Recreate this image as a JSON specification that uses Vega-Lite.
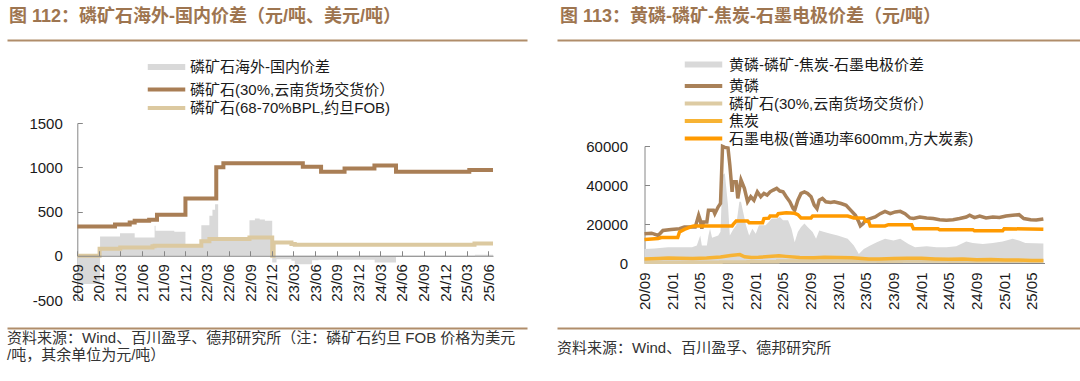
{
"$schema": "https://vega.github.io/schema/vega-lite/v6.json",
"padding": {"left": 7, "top": 8, "right": 0, "bottom": 0},
"background": "white",
"spacing": 30,
"config": {
  "font": "Liberation Sans, Noto Sans CJK SC",
  "view": {"stroke": null},
  "axis": {"grid": false, "title": null, "labelFont": "Liberation Sans", "labelFontSize": 15, "labelColor": "#1a1a1a", "domainColor": "#868686", "tickColor": "#868686", "labelFlush": false, "labelOverlap": false, "labelBound": false},
  "legend": {"orient": "none", "direction": "vertical", "title": null, "symbolType": "M-2.5,0H2.5", "symbolStrokeWidth": 4, "symbolSize": 225, "labelFontSize": 15, "labelFont": "Liberation Sans, Noto Sans CJK SC", "labelColor": "#1a1a1a", "labelLimit": 500, "rowPadding": 1, "labelOffset": 16, "padding": 0},
  "title": {"anchor": "start", "font": "Liberation Sans, Noto Sans CJK SC"}
},
"resolve": {"scale": {"color": "independent"}, "legend": {"color": "independent"}},
"datasets": {
"L": [
{"d":"2020/09/01","s":"磷矿石海外-国内价差","v":-320},
{"d":"2020/12/06","s":"磷矿石海外-国内价差","v":218},
{"d":"2021/02/28","s":"磷矿石海外-国内价差","v":255},
{"d":"2021/05/01","s":"磷矿石海外-国内价差","v":207},
{"d":"2021/07/24","s":"磷矿石海外-国内价差","v":338},
{"d":"2021/07/28","s":"磷矿石海外-国内价差","v":282},
{"d":"2021/10/15","s":"磷矿石海外-国内价差","v":270},
{"d":"2021/12/01","s":"磷矿石海外-国内价差","v":110},
{"d":"2022/02/06","s":"磷矿石海外-国内价差","v":346},
{"d":"2022/03/12","s":"磷矿石海外-国内价差","v":451},
{"d":"2022/03/25","s":"磷矿石海外-国内价差","v":520},
{"d":"2022/04/05","s":"磷矿石海外-国内价差","v":583},
{"d":"2022/04/18","s":"磷矿石海外-国内价差","v":200},
{"d":"2022/08/28","s":"磷矿石海外-国内价差","v":400},
{"d":"2022/09/20","s":"磷矿石海外-国内价差","v":421},
{"d":"2022/10/10","s":"磷矿石海外-国内价差","v":410},
{"d":"2022/11/01","s":"磷矿石海外-国内价差","v":395},
{"d":"2022/12/02","s":"磷矿石海外-国内价差","v":-75},
{"d":"2022/12/20","s":"磷矿石海外-国内价差","v":-40},
{"d":"2023/02/21","s":"磷矿石海外-国内价差","v":-56},
{"d":"2023/03/07","s":"磷矿石海外-国内价差","v":-95},
{"d":"2023/05/19","s":"磷矿石海外-国内价差","v":-50},
{"d":"2023/06/15","s":"磷矿石海外-国内价差","v":-45},
{"d":"2024/02/07","s":"磷矿石海外-国内价差","v":-75},
{"d":"2024/05/07","s":"磷矿石海外-国内价差","v":-15},
{"d":"2025/03/15","s":"磷矿石海外-国内价差","v":-10},
{"d":"2025/04/05","s":"磷矿石海外-国内价差","v":10},
{"d":"2025/06/20","s":"磷矿石海外-国内价差","v":10},
{"d":"2020/09/01","s":"磷矿石(30%,云南货场交货价）","v":330},
{"d":"2021/02/07","s":"磷矿石(30%,云南货场交货价）","v":353},
{"d":"2021/04/10","s":"磷矿石(30%,云南货场交货价）","v":376},
{"d":"2021/05/01","s":"磷矿石(30%,云南货场交货价）","v":395},
{"d":"2021/07/01","s":"磷矿石(30%,云南货场交货价）","v":406},
{"d":"2021/08/03","s":"磷矿石(30%,云南货场交货价）","v":462},
{"d":"2021/12/01","s":"磷矿石(30%,云南货场交货价）","v":647},
{"d":"2022/04/10","s":"磷矿石(30%,云南货场交货价）","v":1000},
{"d":"2022/05/10","s":"磷矿石(30%,云南货场交货价）","v":1045},
{"d":"2023/04/10","s":"磷矿石(30%,云南货场交货价）","v":1005},
{"d":"2023/06/26","s":"磷矿石(30%,云南货场交货价）","v":950},
{"d":"2023/10/03","s":"磷矿石(30%,云南货场交货价）","v":985},
{"d":"2024/02/06","s":"磷矿石(30%,云南货场交货价）","v":1020},
{"d":"2024/05/07","s":"磷矿石(30%,云南货场交货价）","v":950},
{"d":"2025/03/12","s":"磷矿石(30%,云南货场交货价）","v":970},
{"d":"2025/06/20","s":"磷矿石(30%,云南货场交货价）","v":970},
{"d":"2020/09/01","s":"磷矿石(68-70%BPL,约旦FOB)","v":0},
{"d":"2020/12/04","s":"磷矿石(68-70%BPL,约旦FOB)","v":80},
{"d":"2021/03/01","s":"磷矿石(68-70%BPL,约旦FOB)","v":92},
{"d":"2021/07/15","s":"磷矿石(68-70%BPL,约旦FOB)","v":108},
{"d":"2021/07/24","s":"磷矿石(68-70%BPL,约旦FOB)","v":113},
{"d":"2022/02/06","s":"磷矿石(68-70%BPL,约旦FOB)","v":165},
{"d":"2022/03/12","s":"磷矿石(68-70%BPL,约旦FOB)","v":188},
{"d":"2022/08/28","s":"磷矿石(68-70%BPL,约旦FOB)","v":207},
{"d":"2022/12/02","s":"磷矿石(68-70%BPL,约旦FOB)","v":0},
{"d":"2022/12/08","s":"磷矿石(68-70%BPL,约旦FOB)","v":150},
{"d":"2023/02/21","s":"磷矿石(68-70%BPL,约旦FOB)","v":132},
{"d":"2023/03/07","s":"磷矿石(68-70%BPL,约旦FOB)","v":124},
{"d":"2025/04/03","s":"磷矿石(68-70%BPL,约旦FOB)","v":139},
{"d":"2025/06/20","s":"磷矿石(68-70%BPL,约旦FOB)","v":139}
],
"R": [
{"d":"2020/09/01","s":"黄磷-磷矿-焦炭-石墨电极价差","v":7200},
{"d":"2020/10/15","s":"黄磷-磷矿-焦炭-石墨电极价差","v":7400},
{"d":"2020/12/13","s":"黄磷-磷矿-焦炭-石墨电极价差","v":8100},
{"d":"2021/03/29","s":"黄磷-磷矿-焦炭-石墨电极价差","v":8100},
{"d":"2021/04/19","s":"黄磷-磷矿-焦炭-石墨电极价差","v":9000},
{"d":"2021/05/04","s":"黄磷-磷矿-焦炭-石墨电极价差","v":14100},
{"d":"2021/05/11","s":"黄磷-磷矿-焦炭-石墨电极价差","v":9000},
{"d":"2021/06/02","s":"黄磷-磷矿-焦炭-石墨电极价差","v":9000},
{"d":"2021/06/09","s":"黄磷-磷矿-焦炭-石墨电极价差","v":14100},
{"d":"2021/06/16","s":"黄磷-磷矿-焦炭-石墨电极价差","v":17600},
{"d":"2021/06/25","s":"黄磷-磷矿-焦炭-石墨电极价差","v":13000},
{"d":"2021/07/22","s":"黄磷-磷矿-焦炭-石墨电极价差","v":14100},
{"d":"2021/08/01","s":"黄磷-磷矿-焦炭-石墨电极价差","v":16000},
{"d":"2021/08/10","s":"黄磷-磷矿-焦炭-石墨电极价差","v":45000},
{"d":"2021/08/20","s":"黄磷-磷矿-焦炭-石墨电极价差","v":46000},
{"d":"2021/09/03","s":"黄磷-磷矿-焦炭-石墨电极价差","v":29600},
{"d":"2021/09/11","s":"黄磷-磷矿-焦炭-石墨电极价差","v":14100},
{"d":"2021/09/25","s":"黄磷-磷矿-焦炭-石墨电极价差","v":17000},
{"d":"2021/10/09","s":"黄磷-磷矿-焦炭-石墨电极价差","v":19300},
{"d":"2021/10/23","s":"黄磷-磷矿-焦炭-石墨电极价差","v":31400},
{"d":"2021/10/30","s":"黄磷-磷矿-焦炭-石墨电极价差","v":31400},
{"d":"2021/11/21","s":"黄磷-磷矿-焦炭-石墨电极价差","v":19300},
{"d":"2021/12/05","s":"黄磷-磷矿-焦炭-石墨电极价差","v":14100},
{"d":"2021/12/19","s":"黄磷-磷矿-焦炭-石墨电极价差","v":17600},
{"d":"2022/01/03","s":"黄磷-磷矿-焦炭-石墨电极价差","v":15000},
{"d":"2022/01/17","s":"黄磷-磷矿-焦炭-石墨电极价差","v":19300},
{"d":"2022/02/15","s":"黄磷-磷矿-焦炭-石墨电极价差","v":19300},
{"d":"2022/03/01","s":"黄磷-磷矿-焦炭-石墨电极价差","v":21000},
{"d":"2022/03/14","s":"黄磷-磷矿-焦炭-石墨电极价差","v":22800},
{"d":"2022/04/05","s":"黄磷-磷矿-焦炭-石墨电极价差","v":22800},
{"d":"2022/04/19","s":"黄磷-磷矿-焦炭-石墨电极价差","v":23600},
{"d":"2022/05/03","s":"黄磷-磷矿-焦炭-石墨电极价差","v":21900},
{"d":"2022/05/25","s":"黄磷-磷矿-焦炭-石墨电极价差","v":21900},
{"d":"2022/06/09","s":"黄磷-磷矿-焦炭-石墨电极价差","v":17600},
{"d":"2022/06/23","s":"黄磷-磷矿-焦炭-石墨电极价差","v":10700},
{"d":"2022/07/07","s":"黄磷-磷矿-焦炭-石墨电极价差","v":15900},
{"d":"2022/07/21","s":"黄磷-磷矿-焦炭-石墨电极价差","v":18400},
{"d":"2022/08/05","s":"黄磷-磷矿-焦炭-石墨电极价差","v":20200},
{"d":"2022/08/19","s":"黄磷-磷矿-焦炭-石墨电极价差","v":18400},
{"d":"2022/09/10","s":"黄磷-磷矿-焦炭-石墨电极价差","v":15900},
{"d":"2022/09/25","s":"黄磷-磷矿-焦炭-石墨电极价差","v":12400},
{"d":"2022/10/09","s":"黄磷-磷矿-焦炭-石墨电极价差","v":16700},
{"d":"2022/10/31","s":"黄磷-磷矿-焦炭-石墨电极价差","v":15900},
{"d":"2022/11/28","s":"黄磷-磷矿-焦炭-石墨电极价差","v":15000},
{"d":"2022/12/29","s":"黄磷-磷矿-焦炭-石墨电极价差","v":14100},
{"d":"2023/02/11","s":"黄磷-磷矿-焦炭-石墨电极价差","v":12400},
{"d":"2023/03/10","s":"黄磷-磷矿-焦炭-石墨电极价差","v":9000},
{"d":"2023/04/01","s":"黄磷-磷矿-焦炭-石墨电极价差","v":4650},
{"d":"2023/04/23","s":"黄磷-磷矿-焦炭-石墨电极价差","v":7200},
{"d":"2023/05/21","s":"黄磷-磷矿-焦炭-石墨电极价差","v":9000},
{"d":"2023/06/19","s":"黄磷-磷矿-焦炭-石墨电极价差","v":10700},
{"d":"2023/07/25","s":"黄磷-磷矿-焦炭-石墨电极价差","v":12400},
{"d":"2023/08/31","s":"黄磷-磷矿-焦炭-石墨电极价差","v":11550},
{"d":"2023/09/30","s":"黄磷-磷矿-焦炭-石墨电极价差","v":12400},
{"d":"2023/11/05","s":"黄磷-磷矿-焦炭-石墨电极价差","v":9800},
{"d":"2023/12/04","s":"黄磷-磷矿-焦炭-石墨电极价差","v":8100},
{"d":"2024/01/24","s":"黄磷-磷矿-焦炭-石墨电极价差","v":8600},
{"d":"2024/03/07","s":"黄磷-磷矿-焦炭-石墨电极价差","v":8100},
{"d":"2024/04/20","s":"黄磷-磷矿-焦炭-石墨电极价差","v":8100},
{"d":"2024/06/02","s":"黄磷-磷矿-焦炭-石墨电极价差","v":8600},
{"d":"2024/07/16","s":"黄磷-磷矿-焦炭-石墨电极价差","v":11000},
{"d":"2024/08/14","s":"黄磷-磷矿-焦炭-石墨电极价差","v":10300},
{"d":"2024/09/27","s":"黄磷-磷矿-焦炭-石墨电极价差","v":9800},
{"d":"2024/11/10","s":"黄磷-磷矿-焦炭-石墨电极价差","v":10300},
{"d":"2024/12/23","s":"黄磷-磷矿-焦炭-石墨电极价差","v":11000},
{"d":"2025/02/05","s":"黄磷-磷矿-焦炭-石墨电极价差","v":12400},
{"d":"2025/03/05","s":"黄磷-磷矿-焦炭-石墨电极价差","v":11550},
{"d":"2025/04/02","s":"黄磷-磷矿-焦炭-石墨电极价差","v":10300},
{"d":"2025/06/20","s":"黄磷-磷矿-焦炭-石墨电极价差","v":10000},
{"d":"2020/09/01","s":"黄磷","v":15000},
{"d":"2020/10/02","s":"黄磷","v":15300},
{"d":"2020/10/31","s":"黄磷","v":14100},
{"d":"2020/11/21","s":"黄磷","v":16700},
{"d":"2020/12/27","s":"黄磷","v":17200},
{"d":"2021/02/02","s":"黄磷","v":17600},
{"d":"2021/02/23","s":"黄磷","v":18400},
{"d":"2021/04/12","s":"黄磷","v":18400},
{"d":"2021/04/27","s":"黄磷","v":24500},
{"d":"2021/05/04","s":"黄磷","v":22000},
{"d":"2021/05/11","s":"黄磷","v":17600},
{"d":"2021/05/18","s":"黄磷","v":21000},
{"d":"2021/06/02","s":"黄磷","v":21000},
{"d":"2021/06/09","s":"黄磷","v":27000},
{"d":"2021/07/01","s":"黄磷","v":27000},
{"d":"2021/07/07","s":"黄磷","v":25300},
{"d":"2021/07/22","s":"黄磷","v":28800},
{"d":"2021/08/01","s":"黄磷","v":30500},
{"d":"2021/08/10","s":"黄磷","v":59800},
{"d":"2021/08/20","s":"黄磷","v":59300},
{"d":"2021/09/03","s":"黄磷","v":59000},
{"d":"2021/09/11","s":"黄磷","v":50300},
{"d":"2021/09/21","s":"黄磷","v":36500},
{"d":"2021/09/25","s":"黄磷","v":41700},
{"d":"2021/10/09","s":"黄磷","v":41700},
{"d":"2021/10/16","s":"黄磷","v":33100},
{"d":"2021/10/30","s":"黄磷","v":42600},
{"d":"2021/11/14","s":"黄磷","v":38300},
{"d":"2021/11/28","s":"黄磷","v":31400},
{"d":"2021/12/12","s":"黄磷","v":34000},
{"d":"2021/12/26","s":"黄磷","v":32200},
{"d":"2022/01/10","s":"黄磷","v":36500},
{"d":"2022/01/25","s":"黄磷","v":34000},
{"d":"2022/02/08","s":"黄磷","v":35700},
{"d":"2022/02/22","s":"黄磷","v":34800},
{"d":"2022/03/07","s":"黄磷","v":36500},
{"d":"2022/03/21","s":"黄磷","v":37400},
{"d":"2022/04/05","s":"黄磷","v":38300},
{"d":"2022/04/19","s":"黄磷","v":36900},
{"d":"2022/05/03","s":"黄磷","v":36500},
{"d":"2022/05/17","s":"黄磷","v":34000},
{"d":"2022/06/02","s":"黄磷","v":31400},
{"d":"2022/06/16","s":"黄磷","v":27900},
{"d":"2022/06/23","s":"黄磷","v":27000},
{"d":"2022/07/07","s":"黄磷","v":32200},
{"d":"2022/07/21","s":"黄磷","v":35700},
{"d":"2022/08/05","s":"黄磷","v":36500},
{"d":"2022/08/19","s":"黄磷","v":35700},
{"d":"2022/09/03","s":"黄磷","v":34000},
{"d":"2022/09/17","s":"黄磷","v":29650},
{"d":"2022/09/29","s":"黄磷","v":27900},
{"d":"2022/10/09","s":"黄磷","v":32200},
{"d":"2022/10/23","s":"黄磷","v":33100},
{"d":"2022/11/07","s":"黄磷","v":31400},
{"d":"2022/11/28","s":"黄磷","v":31000},
{"d":"2022/12/14","s":"黄磷","v":31400},
{"d":"2023/01/13","s":"黄磷","v":30500},
{"d":"2023/02/04","s":"黄磷","v":29600},
{"d":"2023/02/25","s":"黄磷","v":27000},
{"d":"2023/03/17","s":"黄磷","v":24500},
{"d":"2023/04/01","s":"黄磷","v":21000},
{"d":"2023/04/08","s":"黄磷","v":19000},
{"d":"2023/04/20","s":"黄磷","v":20200},
{"d":"2023/04/30","s":"黄磷","v":21900},
{"d":"2023/05/21","s":"黄磷","v":22800},
{"d":"2023/06/12","s":"黄磷","v":23600},
{"d":"2023/07/04","s":"黄磷","v":25300},
{"d":"2023/07/25","s":"黄磷","v":26500},
{"d":"2023/08/17","s":"黄磷","v":25300},
{"d":"2023/09/08","s":"黄磷","v":26200},
{"d":"2023/09/30","s":"黄磷","v":26500},
{"d":"2023/10/21","s":"黄磷","v":25300},
{"d":"2023/11/12","s":"黄磷","v":23100},
{"d":"2023/11/27","s":"黄磷","v":22800},
{"d":"2023/12/25","s":"黄磷","v":23600},
{"d":"2024/01/24","s":"黄磷","v":23100},
{"d":"2024/02/22","s":"黄磷","v":22800},
{"d":"2024/03/21","s":"黄磷","v":22200},
{"d":"2024/04/20","s":"黄磷","v":21900},
{"d":"2024/05/19","s":"黄磷","v":22200},
{"d":"2024/06/17","s":"黄磷","v":22800},
{"d":"2024/07/16","s":"黄磷","v":23600},
{"d":"2024/07/31","s":"黄磷","v":24500},
{"d":"2024/08/21","s":"黄磷","v":23300},
{"d":"2024/09/13","s":"黄磷","v":24100},
{"d":"2024/10/11","s":"黄磷","v":23100},
{"d":"2024/11/10","s":"黄磷","v":23600},
{"d":"2024/12/09","s":"黄磷","v":23300},
{"d":"2025/01/07","s":"黄磷","v":24100},
{"d":"2025/02/05","s":"黄磷","v":24500},
{"d":"2025/03/05","s":"黄磷","v":24800},
{"d":"2025/03/26","s":"黄磷","v":22800},
{"d":"2025/04/25","s":"黄磷","v":22200},
{"d":"2025/05/20","s":"黄磷","v":22000},
{"d":"2025/06/20","s":"黄磷","v":22600},
{"d":"2020/09/01","s":"磷矿石(30%,云南货场交货价）","v":330},
{"d":"2021/02/07","s":"磷矿石(30%,云南货场交货价）","v":353},
{"d":"2021/04/10","s":"磷矿石(30%,云南货场交货价）","v":376},
{"d":"2021/05/01","s":"磷矿石(30%,云南货场交货价）","v":395},
{"d":"2021/07/01","s":"磷矿石(30%,云南货场交货价）","v":406},
{"d":"2021/08/03","s":"磷矿石(30%,云南货场交货价）","v":462},
{"d":"2021/12/01","s":"磷矿石(30%,云南货场交货价）","v":647},
{"d":"2022/04/10","s":"磷矿石(30%,云南货场交货价）","v":1000},
{"d":"2022/05/10","s":"磷矿石(30%,云南货场交货价）","v":1045},
{"d":"2023/04/10","s":"磷矿石(30%,云南货场交货价）","v":1005},
{"d":"2023/06/26","s":"磷矿石(30%,云南货场交货价）","v":950},
{"d":"2023/10/03","s":"磷矿石(30%,云南货场交货价）","v":985},
{"d":"2024/02/06","s":"磷矿石(30%,云南货场交货价）","v":1020},
{"d":"2024/05/07","s":"磷矿石(30%,云南货场交货价）","v":950},
{"d":"2025/03/12","s":"磷矿石(30%,云南货场交货价）","v":970},
{"d":"2025/06/20","s":"磷矿石(30%,云南货场交货价）","v":970},
{"d":"2020/09/01","s":"焦炭","v":2000},
{"d":"2020/11/01","s":"焦炭","v":2300},
{"d":"2020/12/15","s":"焦炭","v":2600},
{"d":"2021/02/01","s":"焦炭","v":2400},
{"d":"2021/04/01","s":"焦炭","v":2300},
{"d":"2021/06/01","s":"焦炭","v":2600},
{"d":"2021/08/01","s":"焦炭","v":3100},
{"d":"2021/09/15","s":"焦炭","v":3900},
{"d":"2021/10/25","s":"焦炭","v":4300},
{"d":"2021/11/15","s":"焦炭","v":3200},
{"d":"2021/12/15","s":"焦炭","v":2800},
{"d":"2022/01/15","s":"焦炭","v":2900},
{"d":"2022/03/01","s":"焦炭","v":3300},
{"d":"2022/04/15","s":"焦炭","v":3700},
{"d":"2022/05/15","s":"焦炭","v":3400},
{"d":"2022/07/15","s":"焦炭","v":2800},
{"d":"2022/09/15","s":"焦炭","v":2700},
{"d":"2022/11/01","s":"焦炭","v":2900},
{"d":"2023/01/01","s":"焦炭","v":2800},
{"d":"2023/03/01","s":"焦炭","v":2700},
{"d":"2023/05/15","s":"焦炭","v":2100},
{"d":"2023/07/01","s":"焦炭","v":2000},
{"d":"2023/09/01","s":"焦炭","v":2300},
{"d":"2023/11/01","s":"焦炭","v":2400},
{"d":"2024/01/01","s":"焦炭","v":2400},
{"d":"2024/03/01","s":"焦炭","v":2100},
{"d":"2024/05/01","s":"焦炭","v":1900},
{"d":"2024/07/01","s":"焦炭","v":2000},
{"d":"2024/09/01","s":"焦炭","v":1700},
{"d":"2024/11/01","s":"焦炭","v":1800},
{"d":"2025/01/01","s":"焦炭","v":1600},
{"d":"2025/03/01","s":"焦炭","v":1500},
{"d":"2025/05/01","s":"焦炭","v":1300},
{"d":"2025/06/20","s":"焦炭","v":1300},
{"d":"2020/09/01","s":"石墨电极(普通功率600mm,方大炭素)","v":12100},
{"d":"2020/10/31","s":"石墨电极(普通功率600mm,方大炭素)","v":12600},
{"d":"2020/11/14","s":"石墨电极(普通功率600mm,方大炭素)","v":13100},
{"d":"2021/01/25","s":"石墨电极(普通功率600mm,方大炭素)","v":13100},
{"d":"2021/02/02","s":"石墨电极(普通功率600mm,方大炭素)","v":15900},
{"d":"2021/02/23","s":"石墨电极(普通功率600mm,方大炭素)","v":17200},
{"d":"2021/03/29","s":"石墨电极(普通功率600mm,方大炭素)","v":18800},
{"d":"2021/04/05","s":"石墨电极(普通功率600mm,方大炭素)","v":19000},
{"d":"2021/09/21","s":"石墨电极(普通功率600mm,方大炭素)","v":19000},
{"d":"2021/09/25","s":"石墨电极(普通功率600mm,方大炭素)","v":19650},
{"d":"2021/10/09","s":"石墨电极(普通功率600mm,方大炭素)","v":21550},
{"d":"2021/11/28","s":"石墨电极(普通功率600mm,方大炭素)","v":21550},
{"d":"2021/12/05","s":"石墨电极(普通功率600mm,方大炭素)","v":20700},
{"d":"2022/02/02","s":"石墨电极(普通功率600mm,方大炭素)","v":20700},
{"d":"2022/02/08","s":"石墨电极(普通功率600mm,方大炭素)","v":22800},
{"d":"2022/03/01","s":"石墨电极(普通功率600mm,方大炭素)","v":23000},
{"d":"2022/03/07","s":"石墨电极(普通功率600mm,方大炭素)","v":24100},
{"d":"2022/04/05","s":"石墨电极(普通功率600mm,方大炭素)","v":24100},
{"d":"2022/04/12","s":"石墨电极(普通功率600mm,方大炭素)","v":25300},
{"d":"2022/05/17","s":"石墨电极(普通功率600mm,方大炭素)","v":25800},
{"d":"2022/06/23","s":"石墨电极(普通功率600mm,方大炭素)","v":25500},
{"d":"2022/07/07","s":"石墨电极(普通功率600mm,方大炭素)","v":24800},
{"d":"2022/07/21","s":"石墨电极(普通功率600mm,方大炭素)","v":23100},
{"d":"2022/09/03","s":"石墨电极(普通功率600mm,方大炭素)","v":23100},
{"d":"2022/09/10","s":"石墨电极(普通功率600mm,方大炭素)","v":24100},
{"d":"2023/02/11","s":"石墨电极(普通功率600mm,方大炭素)","v":24100},
{"d":"2023/02/25","s":"石墨电极(普通功率600mm,方大炭素)","v":23600},
{"d":"2023/03/10","s":"石墨电极(普通功率600mm,方大炭素)","v":23100},
{"d":"2023/04/23","s":"石墨电极(普通功率600mm,方大炭素)","v":23100},
{"d":"2023/04/30","s":"石墨电极(普通功率600mm,方大炭素)","v":21400},
{"d":"2023/05/14","s":"石墨电极(普通功率600mm,方大炭素)","v":21400},
{"d":"2023/05/21","s":"石墨电极(普通功率600mm,方大炭素)","v":19000},
{"d":"2023/07/25","s":"石墨电极(普通功率600mm,方大炭素)","v":19000},
{"d":"2023/08/09","s":"石墨电极(普通功率600mm,方大炭素)","v":19650},
{"d":"2023/11/19","s":"石墨电极(普通功率600mm,方大炭素)","v":19650},
{"d":"2023/11/27","s":"石墨电极(普通功率600mm,方大炭素)","v":17600},
{"d":"2024/03/14","s":"石墨电极(普通功率600mm,方大炭素)","v":17600},
{"d":"2024/03/21","s":"石墨电极(普通功率600mm,方大炭素)","v":17100},
{"d":"2024/08/14","s":"石墨电极(普通功率600mm,方大炭素)","v":17100},
{"d":"2024/08/21","s":"石墨电极(普通功率600mm,方大炭素)","v":16500},
{"d":"2024/12/23","s":"石墨电极(普通功率600mm,方大炭素)","v":16500},
{"d":"2024/12/30","s":"石墨电极(普通功率600mm,方大炭素)","v":17600},
{"d":"2025/06/20","s":"石墨电极(普通功率600mm,方大炭素)","v":17300}
]
},
"hconcat": [
{
  "bounds": "flush",
  "spacing": 0,
  "vconcat": [
    {
      "width": 520, "height": 83,
      "title": {"text": "图 112：磷矿石海外-国内价差（元/吨、美元/吨）", "fontSize": 18, "fontWeight": "bold", "color": "#9e7550", "offset": 14, "dx": 2},
      "data": {"values": [{"v": 0}]},
      "mark": {"type": "text"},
      "encoding": {
        "x": {"field": "v", "type": "quantitative", "scale": {"domain": [0, 1]}, "axis": {"orient": "top", "domainColor": "#b08d6a", "domainWidth": 2, "ticks": false, "labels": false}},
        "text": {"value": ""}
      }
    },
    {
      "width": 486, "height": 177,
      "data": {"name": "L"},
      "encoding": {
        "x": {"field": "d", "type": "temporal",
          "scale": {"domain": [{"year": 2020, "month": 9, "date": 1}, {"year": 2025, "month": 6, "date": 20}], "range": [70.3, 486]},
          "axis": {"format": "%y/%m", "labelAngle": 270, "offset": -44.25, "tickSize": -5, "labelPadding": 13, "zindex": 1,
            "values": [
              {"year": 2020, "month": 9, "date": 1}, {"year": 2020, "month": 12, "date": 1},
              {"year": 2021, "month": 3, "date": 1}, {"year": 2021, "month": 6, "date": 1}, {"year": 2021, "month": 9, "date": 1}, {"year": 2021, "month": 12, "date": 1},
              {"year": 2022, "month": 3, "date": 1}, {"year": 2022, "month": 6, "date": 1}, {"year": 2022, "month": 9, "date": 1}, {"year": 2022, "month": 12, "date": 1},
              {"year": 2023, "month": 3, "date": 1}, {"year": 2023, "month": 6, "date": 1}, {"year": 2023, "month": 9, "date": 1}, {"year": 2023, "month": 12, "date": 1},
              {"year": 2024, "month": 3, "date": 1}, {"year": 2024, "month": 6, "date": 1}, {"year": 2024, "month": 9, "date": 1}, {"year": 2024, "month": 12, "date": 1},
              {"year": 2025, "month": 3, "date": 1}, {"year": 2025, "month": 6, "date": 1}
            ]}},
        "y": {"field": "v", "type": "quantitative", "stack": null,
          "scale": {"domain": [-500, 1500], "nice": false, "zero": false},
          "axis": {"values": [-500, 0, 500, 1000, 1500], "labelExpr": "'' + datum.value", "offset": -70.3, "tickSize": -5, "labelPadding": 20}},
        "color": {"field": "s", "type": "nominal",
          "scale": {"domain": ["磷矿石海外-国内价差", "磷矿石(30%,云南货场交货价）", "磷矿石(68-70%BPL,约旦FOB)"], "range": ["#d9d9d9", "#a97e55", "#dcc9a0"]},
          "legend": {"legendX": 152, "legendY": 19.5, "labelOffset": 16, "rowPadding": 1.5,
            "encode": {"symbols": {"update": {"strokeWidth": {"signal": "datum.value === '磷矿石海外-国内价差' ? 6 : 4"}}}}}}
      },
      "layer": [
        {"transform": [{"filter": "datum.s === '磷矿石海外-国内价差'"}], "mark": {"type": "area", "interpolate": "step-after"}},
        {"transform": [{"filter": "datum.s === '磷矿石(30%,云南货场交货价）'"}], "mark": {"type": "line", "interpolate": "step-after", "strokeWidth": 4}},
        {"transform": [{"filter": "datum.s === '磷矿石(68-70%BPL,约旦FOB)'"}], "mark": {"type": "line", "interpolate": "step-after", "strokeWidth": 4}}
      ]
    },
    {
      "width": 520, "height": 28,
      "title": {"text": ["资料来源：Wind、百川盈孚、德邦研究所（注：磷矿石约旦 FOB 价格为美元", "/吨，其余单位为元/吨）"], "orient": "bottom", "fontSize": 15, "fontWeight": "normal", "color": "#333333", "offset": 3, "lineHeight": 17},
      "data": {"values": [{"v": 0}]},
      "mark": {"type": "text"},
      "encoding": {
        "x": {"field": "v", "type": "quantitative", "scale": {"domain": [0, 1]}, "axis": {"orient": "bottom", "domainColor": "#b08d6a", "domainWidth": 2, "ticks": false, "labels": false}},
        "text": {"value": ""}
      }
    }
  ]
},
{
  "bounds": "flush",
  "spacing": 0,
  "vconcat": [
    {
      "width": 523, "height": 106,
      "title": {"text": "图 113：黄磷-磷矿-焦炭-石墨电极价差（元/吨）", "fontSize": 18, "fontWeight": "bold", "color": "#9e7550", "offset": 14, "dx": 3},
      "data": {"values": [{"v": 0}]},
      "mark": {"type": "text"},
      "encoding": {
        "x": {"field": "v", "type": "quantitative", "scale": {"domain": [0, 1]}, "axis": {"orient": "top", "domainColor": "#b08d6a", "domainWidth": 2, "ticks": false, "labels": false}},
        "text": {"value": ""}
      }
    },
    {
      "width": 490, "height": 117,
      "data": {"name": "R"},
      "encoding": {
        "x": {"field": "d", "type": "temporal",
          "scale": {"domain": [{"year": 2020, "month": 9, "date": 1}, {"year": 2025, "month": 6, "date": 25}], "range": [87.5, 487.5]},
          "axis": {"format": "%y/%m", "labelAngle": 270, "tickSize": -5, "labelPadding": 14,
            "values": [
              {"year": 2020, "month": 9, "date": 1}, {"year": 2021, "month": 1, "date": 1}, {"year": 2021, "month": 5, "date": 1}, {"year": 2021, "month": 9, "date": 1},
              {"year": 2022, "month": 1, "date": 1}, {"year": 2022, "month": 5, "date": 1}, {"year": 2022, "month": 9, "date": 1},
              {"year": 2023, "month": 1, "date": 1}, {"year": 2023, "month": 5, "date": 1}, {"year": 2023, "month": 9, "date": 1},
              {"year": 2024, "month": 1, "date": 1}, {"year": 2024, "month": 5, "date": 1}, {"year": 2024, "month": 9, "date": 1},
              {"year": 2025, "month": 1, "date": 1}, {"year": 2025, "month": 5, "date": 1}
            ]}},
        "y": {"field": "v", "type": "quantitative", "stack": null,
          "scale": {"domain": [0, 60000], "nice": false},
          "axis": {"values": [0, 20000, 40000, 60000], "format": "d", "offset": -87.5, "tickSize": -5, "labelPadding": 22}},
        "color": {"field": "s", "type": "nominal",
          "scale": {"domain": ["黄磷-磷矿-焦炭-石墨电极价差", "黄磷", "磷矿石(30%,云南货场交货价）", "焦炭", "石墨电极(普通功率600mm,方大炭素)"], "range": ["#d9d9d9", "#a98158", "#ddcba3", "#f7b334", "#ff9a00"]},
          "legend": {"legendX": 139, "legendY": 17, "labelOffset": 18, "rowPadding": 0.5,
            "encode": {"symbols": {"update": {"strokeWidth": {"signal": "datum.value === '黄磷-磷矿-焦炭-石墨电极价差' ? 6 : 4"}}}}}}
      },
      "layer": [
        {"transform": [{"filter": "datum.s === '黄磷-磷矿-焦炭-石墨电极价差'"}], "mark": {"type": "area"}},
        {"transform": [{"filter": "datum.s === '黄磷'"}], "mark": {"type": "line", "strokeWidth": 3.5}},
        {"transform": [{"filter": "datum.s === '磷矿石(30%,云南货场交货价）'"}], "mark": {"type": "line", "interpolate": "step-after", "strokeWidth": 3.5}},
        {"transform": [{"filter": "datum.s === '焦炭'"}], "mark": {"type": "line", "strokeWidth": 3.5}},
        {"transform": [{"filter": "datum.s === '石墨电极(普通功率600mm,方大炭素)'"}], "mark": {"type": "line", "strokeWidth": 3.5}}
      ]
    },
    {
      "width": 523, "height": 65,
      "title": {"text": "资料来源：Wind、百川盈孚、德邦研究所", "orient": "bottom", "fontSize": 15, "fontWeight": "normal", "color": "#333333", "offset": 13},
      "data": {"values": [{"v": 0}]},
      "mark": {"type": "text"},
      "encoding": {
        "x": {"field": "v", "type": "quantitative", "scale": {"domain": [0, 1]}, "axis": {"orient": "bottom", "domainColor": "#b08d6a", "domainWidth": 2, "ticks": false, "labels": false}},
        "text": {"value": ""}
      }
    }
  ]
}
]
}
